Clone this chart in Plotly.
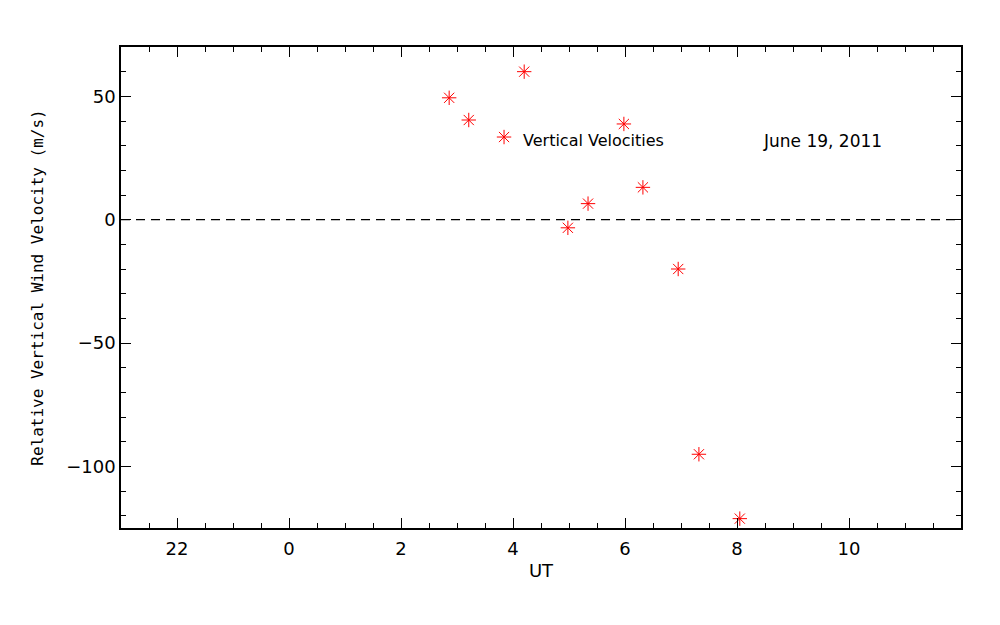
import plotly.graph_objects as go

# Data (UT hours relative to 0 UT; negative = previous day)
ut = [2.86, 3.21, 3.84, 4.20, 4.98, 5.34, 5.98, 6.32, 6.95, 7.32, 8.05]
vel = [49.4, 40.4, 33.5, 60.0, -3.3, 6.5, 38.8, 13.1, -20.0, -95.1, -121.2]

x_tickvals = [-2, 0, 2, 4, 6, 8, 10]
x_ticktext = ["22", "0", "2", "4", "6", "8", "10"]
y_tickvals = [-100, -50, 0, 50]

FONT = "DejaVu Sans"
MONO = "DejaVu Sans Mono"

fig = go.Figure()
fig.add_trace(go.Scatter(
    x=ut, y=vel, mode="markers",
    marker=dict(symbol="asterisk-open", size=12, color="red",
                line=dict(color="red", width=1)),
    showlegend=False, hoverinfo="skip",
))

fig.add_shape(type="line", xref="paper", yref="y", x0=0, x1=1, y0=0, y1=0,
              line=dict(color="black", width=1.2, dash="9px,6px"))

fig.add_annotation(x=4.14, y=32.0, xref="x", yref="y", text="Vertical Velocities",
                   showarrow=False, xanchor="left", yanchor="middle",
                   font=dict(family=FONT, size=16, color="black"))
fig.add_annotation(x=8.43, y=32.0, xref="x", yref="y", text="June 19, 2011",
                   showarrow=False, xanchor="left", yanchor="middle",
                   font=dict(family=FONT, size=17, color="black"))

axis_common = dict(
    showgrid=False, zeroline=False, showline=True, linecolor="black", linewidth=1.5,
    mirror="ticks", ticks="inside", ticklen=10, tickwidth=1.3, tickcolor="black",
    tickfont=dict(family=FONT, size=18, color="black"),
)

fig.update_xaxes(
    range=[-3, 12], tickvals=x_tickvals, ticktext=x_ticktext,
    ticklabelstandoff=4,
    minor=dict(dtick=0.5, ticks="inside", ticklen=5, tickwidth=1.3, tickcolor="black"),
    title=dict(text="UT", font=dict(family=FONT, size=18, color="black"), standoff=6),
    **axis_common,
)
fig.update_yaxes(
    range=[-125, 70], tickvals=y_tickvals,
    minor=dict(dtick=10, ticks="inside", ticklen=5, tickwidth=1.3, tickcolor="black"),
    title=dict(text="Relative Vertical Wind Velocity (m/s)",
               font=dict(family=MONO, size=16, color="black"), standoff=19),
    **axis_common,
)

# page body has an 8px margin; compensate so the plot lands where the reference has it
fig.update_layout(
    width=992, height=617,
    margin=dict(l=113, r=39, t=39, b=97),
    paper_bgcolor="white", plot_bgcolor="white",
)

fig.write_html("out.html")
